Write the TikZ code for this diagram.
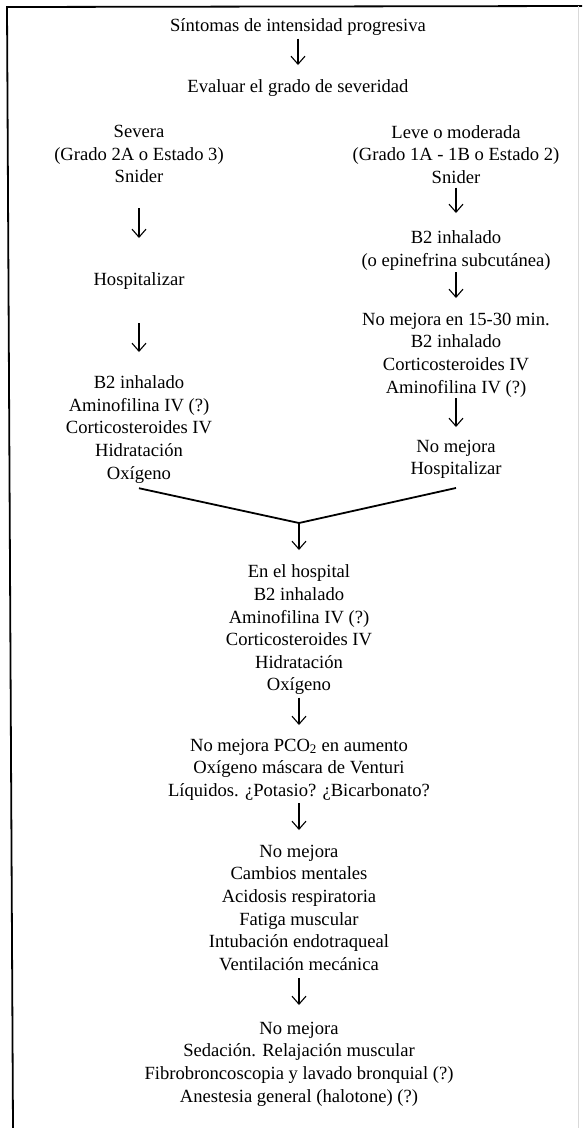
\documentclass[tikz,border=0pt]{standalone}
\usepackage{fontspec}
\setmainfont{Liberation Serif}
\usetikzlibrary{arrows.meta}

\begin{document}
\begin{tikzpicture}[x=1pt,y=-1pt,
  every node/.style={font=\fontsize{18.6}{22.6}\selectfont,align=center,inner sep=0pt,anchor=north},
  arr/.style={-{Straight Barb[length=8pt,width=14pt]},line width=1.1pt},
  merge/.style={line width=1.8pt}]
  \useasboundingbox (0,0) rectangle (582,1128);

  % Frame
  \draw[line width=1.8pt] (582,6) -- (7,7) -- (13,1128);
  \draw[gray!30,line width=0.6pt] (578,6) -- (578,1128);

  % Start
  \node (sint) at (298,18.7) {Síntomas de intensidad progresiva};
  \node (eval) at (298,79.7) {Evaluar el grado de severidad};
  \draw[arr,shorten <=2.5pt,shorten >=14.7pt] (sint) -- (eval);

  % Severe branch (left)
  \node (sev) at (139,125) {Severa\\(Grado 2A o Estado 3)\\Snider};
  \node (hospL) at (139,272.2) {Hospitalizar};
  \node (tratL) at (139,375.5) {B2 inhalado\\Aminofilina IV (?)\\Corticosteroides IV\\Hidratación\\Oxígeno};
  \draw[arr,shorten <=25pt,shorten >=34.2pt] (sev) -- (hospL);
  \draw[arr,shorten <=34pt,shorten >=23.5pt] (hospL) -- (tratL);

  % Mild branch (right)
  \node (leve) at (456,125) {Leve o moderada\\(Grado 1A - 1B o Estado 2)\\Snider};
  \node (b2R) at (456,230.5) {B2 inhalado\\(o epinefrina subcutánea)};
  \node (nomR) at (456,312.7) {No mejora en 15-30 min.\\B2 inhalado\\Corticosteroides IV\\Aminofilina IV (?)};
  \node (hospR) at (456,439.7) {No mejora\\Hospitalizar};
  \draw[arr,shorten <=4pt,shorten >=17.5pt] (leve) -- (b2R);
  \draw[arr,shorten <=2pt,shorten >=14.7pt] (b2R) -- (nomR);
  \draw[arr,shorten <=1pt,shorten >=12.7pt] (nomR) -- (hospR);

  % Join
  \coordinate (join) at (299,523);
  \draw[merge] ([yshift=-5pt]tratL.south) -- (join) -- ([yshift=-9pt]hospR.south);

  % Hospital
  \node (hosp) at (299,564.7) {En el hospital\\B2 inhalado\\Aminofilina IV (?)\\Corticosteroides IV\\Hidratación\\Oxígeno};
  \node (pco) at (299,738.7) {No mejora PCO\textsubscript{2} en aumento\\Oxígeno máscara de Venturi\\Líquidos. ¿Potasio? ¿Bicarbonato?};
  \node (mej3) at (299,844.7) {No mejora\\Cambios mentales\\Acidosis respiratoria\\Fatiga muscular\\Intubación endotraqueal\\Ventilación mecánica};
  \node (mej4) at (299,1021.7) {No mejora\\Sedación. Relajación muscular\\Fibrobroncoscopia y lavado bronquial (?)\\Anestesia general (halotone) (?)};
  \draw[arr,shorten >=14.7pt] (join) -- (hosp);
  \draw[arr,shorten <=2.5pt,shorten >=13.7pt] (hosp) -- (pco);
  \draw[arr,shorten <=2.6pt,shorten >=14.7pt] (pco) -- (mej3);
  \draw[arr,shorten <=7.5pt,shorten >=16.7pt] (mej3) -- (mej4);

\end{tikzpicture}
\end{document}
